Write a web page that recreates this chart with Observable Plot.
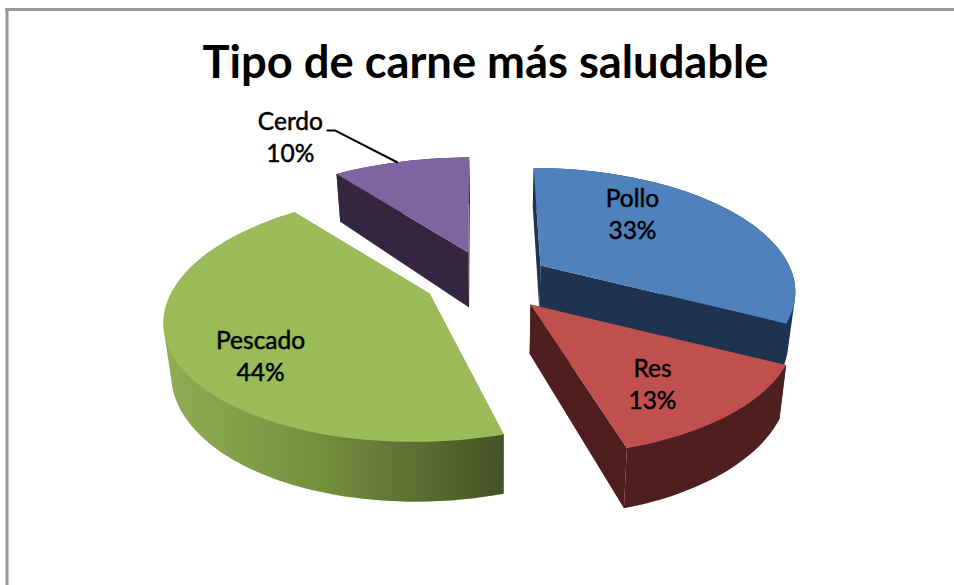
<!DOCTYPE html>
<html>
<head>
<meta charset="utf-8">
<script src="https://cdn.jsdelivr.net/npm/d3@7"></script>
<script src="https://cdn.jsdelivr.net/npm/@observablehq/plot@0.6"></script>
<style>
html,body{margin:0;padding:0;background:#fff;overflow:hidden}
#chart{position:relative;width:954px;height:585px}
#title{position:absolute;left:0;right:0;top:34px;text-align:center;margin:0;font:700 45.3px/54px Lato,"Open Sans",sans-serif;color:#000;margin-left:17px;white-space:nowrap}
svg{display:block}
</style>
</head>
<body>
<div id="chart"><h1 id="title">Tipo de carne más saludable</h1></div>
<script>
const categories = ["Pollo", "Res", "Pescado", "Cerdo"];
const values = [33, 13, 44, 10];
const topColors = ["#4f81bd", "#c0504d", "#9bbb59", "#8064a2"];
const wallColors = ["#1f3350", "#4e1f1e", "url(#wallGreen)", "#35263f"];
// explosion of each slice on the pie's ground plane, slice radii, turn and thickness
const explodeU = [0.172, 0.124, -0.260, -0.119];
const explodeV = [0.174, -0.155, -0.067, 0.293];
const radiusU = [0.995, 0.975, 0.99, 1.06];
const radiusV = [1.04, 0.975, 0.99, 1.06];
const turn = [0, -2, -2, -1];
const trimEnd = [1.5, 0, 1.5, 0];
const thickness = [48, 48, 48, 58];
// pixel offset of each label from its slice's apex
const labelDx = [92, 122, -169, -178];
const labelDy = [-53, 78, 61, -117];

// perspective camera
const Xv = 497, Y0 = 285, S = 258, A = 118.7, P = 0.187;
function project(U, V, z) {
  const w = 1 + P * V, k = z ? 0.977 : 1;
  return {x: Xv + S * U / w * k, y: Y0 - A * V / w + z / w};
}
const rad = d => d * Math.PI / 180;
const total = d3.sum(values);
let acc = 0;
const slices = categories.map((name, i) => {
  const a0 = acc + turn[i], a1 = acc + turn[i] - trimEnd[i] + values[i] / total * 360;
  acc += values[i] / total * 360;
  const h = thickness[i];
  const pt = (t, z) => project(
    explodeU[i] + radiusU[i] * Math.sin(rad(t)),
    explodeV[i] + radiusV[i] * Math.cos(rad(t)), z * h);
  const apex = z => project(explodeU[i], explodeV[i], z * h);
  const arc = (z, rev) => {
    const n = Math.ceil((a1 - a0) / 2), out = [];
    for (let j = 0; j <= n; j++) out.push(pt(a0 + (a1 - a0) * j / n, z));
    return rev ? out.reverse() : out;
  };
  // the outer wall's silhouette: hull of its top and bottom arcs
  const hull = d3.polygonHull([...arc(0), ...arc(1)].map(p => [p.x, p.y])).map(([x, y]) => ({x, y}));
  return {
    name, i, a0, a1, pt, apex,
    top: [apex(0), ...arc(0)],
    outer: hull,
    wallStart: [apex(0), pt(a0, 0), pt(a0, 1), apex(1)],
    wallEnd: [apex(0), pt(a1, 0), pt(a1, 1), apex(1)]
  };
});

const poly = (pts, fill) => Plot.line(pts, {x: "x", y: "y", fill, stroke: "none", curve: "linear"});
const order = [3, 0, 2, 1]; // back to front
const sliceMarks = order.flatMap(i => {
  const s = slices[i], w = wallColors[i], solid = w.startsWith("url") ? "#6f8a3d" : w;
  return [
    poly(s.wallStart, solid),
    poly(s.wallEnd, solid),
    poly(s.outer, w),
    poly(s.top, topColors[i])
  ];
});

const defs = () => {
  const ns = "http://www.w3.org/2000/svg";
  const d = document.createElementNS(ns, "defs");
  d.innerHTML = `<linearGradient id="wallGreen" x1="0" x2="1" y1="0" y2="0">
    <stop offset="0" stop-color="#8fae52"/><stop offset="0.45" stop-color="#76913f"/>
    <stop offset="1" stop-color="#445224"/></linearGradient>`;
  return d;
};

const cerdo = slices[3];
const leaderEnd = cerdo.pt(cerdo.a0 + 0.47 * (cerdo.a1 - cerdo.a0), 0);
const cerdoApex = cerdo.apex(0);
const leader = [
  {x: cerdoApex.x - 141, y: cerdoApex.y - 122},
  {x: cerdoApex.x - 133, y: cerdoApex.y - 122},
  leaderEnd
];

const labelData = slices.map(s => ({
  text: `${s.name}\n${values[s.i]}%`,
  ...s.apex(0), dx: labelDx[s.i], dy: labelDy[s.i]
}));

const plot = Plot.plot({
  width: 954, height: 585, margin: 0,
  x: {domain: [0, 954], range: [0, 954], axis: null},
  y: {domain: [0, 585], range: [0, 585], axis: null},
  style: {background: "transparent", overflow: "hidden"},
  marks: [
    defs,
    Plot.ruleX([6.5], {stroke: "#999", strokeWidth: 3, y1: 8, y2: 585}),
    Plot.ruleY([9], {stroke: "#999", strokeWidth: 3, x1: 5, x2: 954}),
    ...sliceMarks,
    Plot.line(leader, {x: "x", y: "y", stroke: "#000", strokeWidth: 2, curve: "linear"}),
    ...labelData.map(d => Plot.text([d], {
      x: "x", y: "y", text: "text", dx: d.dx, dy: d.dy,
      fontFamily: "Lato, 'Open Sans', sans-serif", fontSize: 24.5, fontWeight: 400,
      fill: "#000", stroke: "#000", strokeWidth: 0.5, lineHeight: 1.3, textAnchor: "middle", lineAnchor: "middle"
    }))
  ]
});
document.getElementById("chart").prepend(plot);
</script>
</body>
</html>
